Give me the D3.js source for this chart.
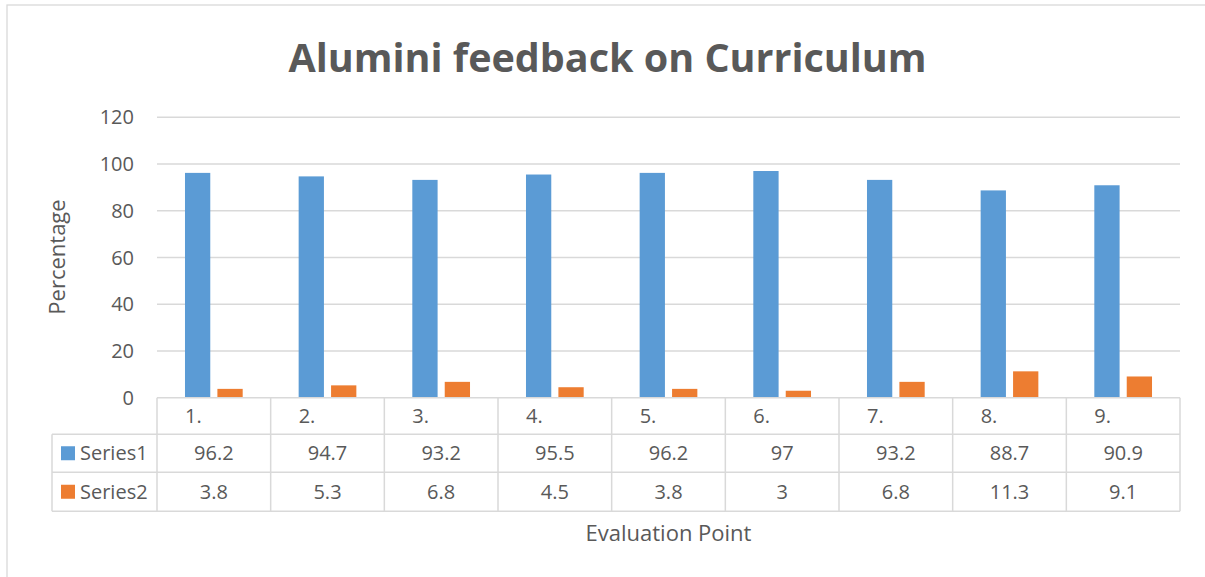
<!DOCTYPE html>
<html lang="en">
<head>
  <title>Alumini feedback on Curriculum</title>
  <meta charset="utf-8">
  <script src="https://d3js.org/d3.v7.min.js"></script>
  <style>
    body { margin: 0; background: #fff; }
    text { font-family: "Open Sans", sans-serif; fill: #595959; }
  </style>
</head>
<body>
<svg id="chart" width="1205" height="577"></svg>

<script>
// data
var categories = ["1.", "2.", "3.", "4.", "5.", "6.", "7.", "8.", "9."];
var seriesNames = ["Series1", "Series2"];
var series1 = [96.2, 94.7, 93.2, 95.5, 96.2, 97, 93.2, 88.7, 90.9];
var series2 = [3.8, 5.3, 6.8, 4.5, 3.8, 3, 6.8, 11.3, 9.1];
var yTicks = [0, 20, 40, 60, 80, 100, 120];
var colors = ["#5b9bd5", "#ed7d31"];

var seriesValues = [series1, series2];
var grid = "#d9d9d9";

var svg = d3.select("#chart");

// outer chart border
svg.append("rect")
    .attr("x", 7).attr("y", 5)
    .attr("width", 1202).attr("height", 590)
    .attr("fill", "none").attr("stroke", grid).attr("stroke-width", 1.3);

// title
svg.append("text")
    .attr("x", 607.5).attr("y", 72)
    .attr("text-anchor", "middle")
    .style("font-size", "39.5px").style("font-weight", "bold")
    .text("Alumini feedback on Curriculum");

var left = 157, right = 1180;
var x = d3.scaleBand().domain(categories).range([left, right]);
var y = d3.scaleLinear().domain([0, 120]).range([397.75, 117.25]);

var cw = x.bandwidth();
var xInner = d3.scaleBand().domain(seriesNames)
    .range([(cw - 57.7) / 2, (cw + 57.7) / 2]).paddingInner(0.22);

// gridlines
svg.append("g").selectAll("line")
    .data(yTicks.filter(function(d) { return d > 0; }))
    .enter().append("line")
    .attr("x1", left).attr("x2", right)
    .attr("y1", function(d) { return y(d); })
    .attr("y2", function(d) { return y(d); })
    .attr("stroke", grid).attr("stroke-width", 1.5);

// y tick labels
svg.append("g").selectAll("text")
    .data(yTicks)
    .enter().append("text")
    .attr("x", 134)
    .attr("y", function(d) { return y(d) + 7; })
    .attr("text-anchor", "end")
    .style("font-size", "20px")
    .text(function(d) { return d; });

// bars
seriesNames.forEach(function(name, s) {
    svg.append("g").selectAll("rect")
        .data(seriesValues[s])
        .enter().append("rect")
        .attr("x", function(d, i) { return x(categories[i]) + xInner(name); })
        .attr("y", function(d) { return y(d); })
        .attr("width", xInner.bandwidth())
        .attr("height", function(d) { return y(0) - y(d); })
        .attr("fill", colors[s]);
});

// data table
var rowTop = y(0), rowH = [36.5, 38, 39];
var r1 = rowTop + rowH[0], r2 = r1 + rowH[1], r3 = r2 + rowH[2];
var legendLeft = 52;
var tbl = svg.append("g").attr("stroke", grid).attr("stroke-width", 1.5);

tbl.append("line").attr("x1", left).attr("x2", right).attr("y1", rowTop).attr("y2", rowTop);
[r1, r2, r3].forEach(function(yy) {
    tbl.append("line").attr("x1", legendLeft).attr("x2", right).attr("y1", yy).attr("y2", yy);
});
tbl.append("line").attr("x1", legendLeft).attr("x2", legendLeft).attr("y1", r1).attr("y2", r3);
tbl.selectAll("line.v")
    .data(categories.concat(["end"]))
    .enter().append("line")
    .attr("class", "v")
    .attr("x1", function(d, i) { return left + i * cw; })
    .attr("x2", function(d, i) { return left + i * cw; })
    .attr("y1", rowTop).attr("y2", r3);

// category labels
svg.append("g").selectAll("text")
    .data(categories)
    .enter().append("text")
    .attr("x", function(d) { return x(d) + 28; })
    .attr("y", rowTop + 25)
    .style("font-size", "20px")
    .text(function(d) { return d; });

// series rows
var rowMid = [(r1 + r2) / 2, (r2 + r3) / 2];
seriesNames.forEach(function(name, s) {
    svg.append("rect")
        .attr("x", 61).attr("y", rowMid[s] - 7)
        .attr("width", 14).attr("height", 14)
        .attr("fill", colors[s]);
    svg.append("text")
        .attr("x", 80).attr("y", rowMid[s] + 7)
        .style("font-size", "20px")
        .text(name);
    svg.append("g").selectAll("text")
        .data(seriesValues[s])
        .enter().append("text")
        .attr("x", function(d, i) { return x(categories[i]) + cw / 2; })
        .attr("y", rowMid[s] + 7)
        .attr("text-anchor", "middle")
        .style("font-size", "20px")
        .text(function(d) { return d; });
});

// axis titles
svg.append("text")
    .attr("transform", "translate(65,257) rotate(-90)")
    .attr("text-anchor", "middle")
    .style("font-size", "22px")
    .text("Percentage");

svg.append("text")
    .attr("x", (left + right) / 2).attr("y", 541)
    .attr("text-anchor", "middle")
    .style("font-size", "22px")
    .text("Evaluation Point");
</script>
</body>
</html>
